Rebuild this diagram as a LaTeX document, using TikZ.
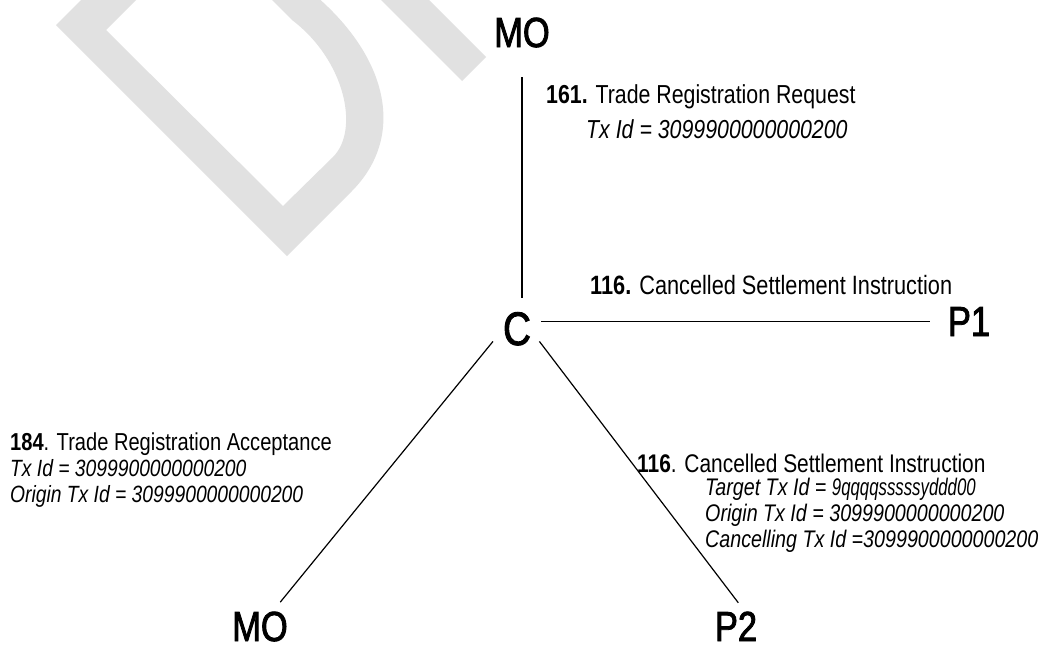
\documentclass[tikz,border=0pt]{standalone}
\usepackage{fontspec}
\setmainfont[FakeStretch=0.82]{Liberation Sans}
\newfontfamily\bigfont[FakeStretch=0.82,FakeBold=2]{Liberation Sans}
\newfontfamily\narrowfont[FakeStretch=0.70]{Liberation Sans}
\definecolor{wmgray}{RGB}{225,225,225}
\begin{document}
\begin{tikzpicture}[x=1pt,y=-1pt,
  bignode/.style={font=\bigfont\fontsize{42}{42}\selectfont, inner sep=0pt, anchor=base},
  toplbl/.style={font=\fontsize{26}{30}\selectfont, inner sep=0pt, anchor=base west},
  midlbl/.style={font=\fontsize{26.5}{30}\selectfont, inner sep=0pt, anchor=base west},
  leftlbl/.style={font=\fontsize{24.5}{28}\selectfont, inner sep=0pt, anchor=base west},
  leftit/.style={font=\fontsize{23.5}{28}\selectfont\itshape, inner sep=0pt, anchor=base west},
  rightlbl/.style={font=\fontsize{25.5}{28}\selectfont, inner sep=0pt, anchor=base west},
  rightit/.style={font=\fontsize{24}{28}\selectfont\itshape, inner sep=0pt, anchor=base west},
  link/.style={line width=1.2pt, black}]
\fill[white] (0,0) rectangle (1046,648);
\useasboundingbox (0,0) rectangle (1046,648);
% watermark fragments
\begin{scope}
\clip (0,0) rectangle (1046,648);
\fill[wmgray, even odd rule]
  (56,25) -- (287,256) -- (351.5,191.5)
  .. controls (405,138) and (390,60) .. (316,-4)
  -- (316,-20) -- (101,-20) -- cycle
  (106,30) -- (283,206) -- (333,157)
  .. controls (360,130) and (345,60) .. (292,20)
  -- (260,-12) -- (148,-12) -- cycle;
\fill[wmgray] (462,81) -- (486,57) -- (419,-10) -- (371,-10) -- cycle;
\end{scope}
% main nodes
\node[bignode] (mo1) at (522,47) {MO};
\node[bignode, font=\bigfont\fontsize{47}{47}\selectfont] (c) at (517,345) {C};
\node[bignode] (p1) at (969,336) {P1};
\node[bignode] (mo2) at (260,641) {MO};
\node[bignode] (p2) at (736,641) {P2};
% connectors
\draw[link, shorten <=14pt, shorten >=29pt] (c.north -| mo1.south) -- (mo1.south);
\draw[link, shorten <=24pt, shorten >=18pt] (p1.west -| c.north) -- (p1.west);
\draw[link, shorten <=38pt, shorten >=12pt] (c.north) -- (mo2.50);
\draw[link, shorten <=37pt, shorten >=11pt] (c.north) -- (p2.59);
% labels
\node[toplbl] (l161) at (546,103) {\textbf{161.} Trade Registration Request};
\node[toplbl] (l161tx) at (586,138) {\textit{Tx Id = 3099900000000200}};
\node[midlbl] (l116a) at (590,294) {\textbf{116.} Cancelled Settlement Instruction};
\node[leftlbl] (l184) at (10,450) {\textbf{184}. Trade Registration Acceptance};
\node[leftit] (l184tx) at (10,476) {Tx Id = 3099900000000200};
\node[leftit] (l184or) at (10,502) {Origin Tx Id = 3099900000000200};
\node[rightlbl] (l116b) at (637,472) {\textbf{116}. Cancelled Settlement Instruction};
\node[rightit] (l116tg) at (705,495) {Target Tx Id = {\narrowfont\itshape 9qqqqsssssyddd00}};
\node[rightit] (l116or) at (705,521) {Origin Tx Id = 3099900000000200};
\node[rightit] (l116cc) at (705,547) {Cancelling Tx Id =3099900000000200};
\end{tikzpicture}
\end{document}
